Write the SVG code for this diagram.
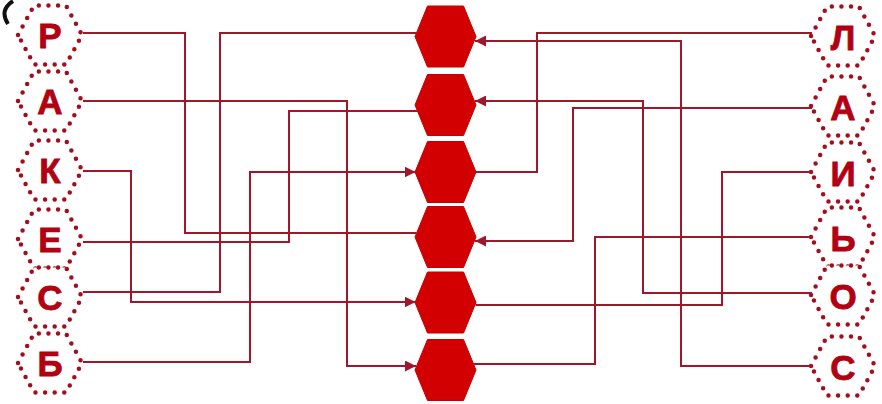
<svg xmlns="http://www.w3.org/2000/svg" width="882" height="404" viewBox="0 0 882 404">
<style>
.lh{fill:#ffffff;stroke:#a50d1c;stroke-width:4.5;stroke-linecap:round;stroke-dasharray:0 9.6}
.ch{fill:#d20000;stroke:#c40000;stroke-width:1}
.t{font-family:"Liberation Sans",Arial,sans-serif;font-weight:bold;font-size:35px;fill:#b20012;stroke:#b20012;stroke-width:0.8;text-anchor:middle}
.c{fill:none;stroke:#a11629;stroke-width:2}
.ca{fill:none;stroke:#a11629;stroke-width:2;marker-end:url(#ar)}
</style>
<defs>
<polygon id="lhex" points="-32,0 -16,-29.5 16,-29.5 32,0 16,29.5 -16,29.5"/>
<polygon id="chex" points="-30.5,0 -18,-30.5 18,-30.5 30.5,0 18,30.5 -18,30.5"/>
<marker id="ar" markerWidth="12" markerHeight="11" refX="11" refY="5.5" orient="auto" markerUnits="userSpaceOnUse">
<path d="M0,0 L11,5.5 L0,11 z" fill="#a11629"/>
</marker>
</defs>
<rect width="882" height="404" fill="#ffffff"/>
<path d="M13,1 Q-1,10 8,24" fill="none" stroke="#111" stroke-width="4"/>
<g id="left-nodes">
<g id="L1"><use href="#lhex" class="lh" x="50" y="35"/><text class="t" x="50" y="47.5">Р</text></g>
<g id="L2"><use href="#lhex" class="lh" x="50" y="101"/><text class="t" x="50" y="113.5">А</text></g>
<g id="L3"><use href="#lhex" class="lh" x="50" y="170"/><text class="t" x="50" y="182.5">К</text></g>
<g id="L4"><use href="#lhex" class="lh" x="50" y="239"/><text class="t" x="50" y="251.5">Е</text></g>
<g id="L5"><use href="#lhex" class="lh" x="50" y="297"/><text class="t" x="50" y="309.5">С</text></g>
<g id="L6"><use href="#lhex" class="lh" x="50" y="363"/><text class="t" x="50" y="375.5">Б</text></g>
</g>
<g id="right-nodes">
<g id="R1"><use href="#lhex" class="lh" x="843" y="36"/><text class="t" x="843" y="49.5">Л</text></g>
<g id="R2"><use href="#lhex" class="lh" x="843" y="106"/><text class="t" x="843" y="119.5">А</text></g>
<g id="R3"><use href="#lhex" class="lh" x="843" y="172"/><text class="t" x="843" y="185.5">И</text></g>
<g id="R4"><use href="#lhex" class="lh" x="843" y="237"/><text class="t" x="843" y="250.5">Ь</text></g>
<g id="R5"><use href="#lhex" class="lh" x="843" y="295"/><text class="t" x="843" y="308.5">О</text></g>
<g id="R6"><use href="#lhex" class="lh" x="843" y="366"/><text class="t" x="843" y="379.5">С</text></g>
</g>
<g id="center-nodes">
<g id="C1"><use href="#chex" class="ch" x="445.5" y="36.5"/></g>
<g id="C2"><use href="#chex" class="ch" x="445.5" y="105"/></g>
<g id="C3"><use href="#chex" class="ch" x="445.5" y="172"/></g>
<g id="C4"><use href="#chex" class="ch" x="445.5" y="237"/></g>
<g id="C5"><use href="#chex" class="ch" x="445.5" y="302.5"/></g>
<g id="C6"><use href="#chex" class="ch" x="445.5" y="370"/></g>
</g>
<g id="connectors">
<path class="c" d="M83,33 H185 V233 H416.5"/>
<path class="ca" d="M83,101 H347 V366 H416"/>
<path class="ca" d="M83,171 H131 V302 H415.5"/>
<path class="c" d="M83,242 H289 V111 H417.5"/>
<path class="c" d="M83,292 H220 V33 H416.5"/>
<path class="ca" d="M83,362 H250 V172 H415.5"/>
<path class="c" d="M812,33 H537 V172 H476"/>
<path class="ca" d="M812,108 H573 V241 H475"/>
<path class="c" d="M812,172 H722 V305 H475.5"/>
<path class="c" d="M812,237 H595 V364 H474"/>
<path class="ca" d="M812,293 H643 V101 H475"/>
<path class="ca" d="M812,366 H681 V41 H475"/>
</g>
</svg>
